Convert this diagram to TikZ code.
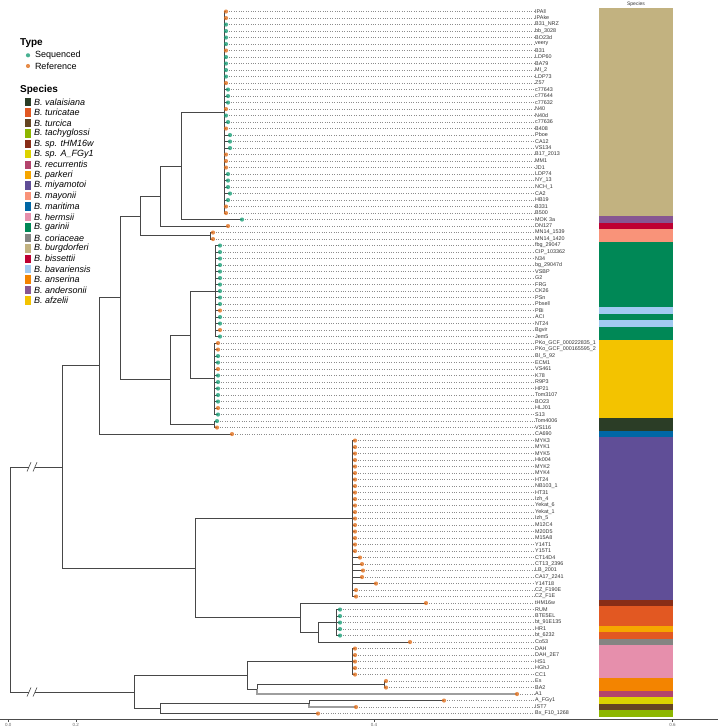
\documentclass[tikz,border=0pt]{standalone}
\usepackage{fontspec}
\setmainfont{Liberation Sans}
\usetikzlibrary{positioning}

\definecolor{cval}{HTML}{2B3D26}
\definecolor{ctur}{HTML}{E25822}
\definecolor{ctrc}{HTML}{654522}
\definecolor{ctac}{HTML}{8DB600}
\definecolor{cthm}{HTML}{882D17}
\definecolor{cafg}{HTML}{DCD300}
\definecolor{crec}{HTML}{B3446C}
\definecolor{cpar}{HTML}{F6A600}
\definecolor{cmiy}{HTML}{604E97}
\definecolor{cmay}{HTML}{F99379}
\definecolor{cmar}{HTML}{0067A5}
\definecolor{cher}{HTML}{E68FAC}
\definecolor{cgar}{HTML}{008856}
\definecolor{ccor}{HTML}{848482}
\definecolor{cbur}{HTML}{C2B280}
\definecolor{cbis}{HTML}{BE0032}
\definecolor{cbav}{HTML}{A1CAF1}
\definecolor{cans}{HTML}{F38400}
\definecolor{cand}{HTML}{875692}
\definecolor{cafz}{HTML}{F3C300}
\definecolor{seqc}{HTML}{1B9E77}
\definecolor{refc}{HTML}{E0701E}

\begin{document}
\begin{tikzpicture}[x=1pt,y=-1pt,
    br/.style={draw=black!72, line width=0.75pt},
    brthick/.style={draw=black!38, line width=1.8pt},
    leader/.style={draw=black!45, dotted, line width=0.4pt},
    tiplab/.style={anchor=west, inner sep=0pt, font=\fontsize{5.4}{6}\selectfont, text=black!80},
    dotR/.style={circle, fill=refc, fill opacity=0.8, inner sep=0pt, minimum size=4.2pt},
    dotG/.style={circle, fill=seqc, fill opacity=0.8, inner sep=0pt, minimum size=4.2pt},
    legtitle/.style={anchor=west, inner sep=0pt, font=\fontsize{10}{12}\selectfont\bfseries},
    legtext/.style={anchor=west, inner sep=0pt, font=\fontsize{9}{11}\selectfont},
    ticklab/.style={inner sep=0pt, font=\fontsize{4.5}{5}\selectfont, text=black!60}]
\useasboundingbox (0,0) rectangle (720,728);

% legend
\node[legtitle] (typetitle) at (20,42.7) {Type};
\node[dotG] (seqdot) at (28,55.3) {};
\node[legtext, right=4.5pt of seqdot] (seqlab) {Sequenced};
\node[dotR] (refdot) at (28,66) {};
\node[legtext, right=4.5pt of refdot] (reflab) {Reference};
\node[legtitle] (sptitle) at (20,90) {Species};
\foreach \c/\n [count=\i from 0] in {cval/valaisiana, ctur/turicatae, ctrc/turcica,
    ctac/tachyglossi, cthm/sp. tHM16w, cafg/sp. A\_FGy1, crec/recurrentis, cpar/parkeri,
    cmiy/miyamotoi, cmay/mayonii, cmar/maritima, cher/hermsii, cgar/garinii,
    ccor/coriaceae, cbur/burgdorferi, cbis/bissettii, cbav/bavariensis,
    cans/anserina, cand/andersonii, cafz/afzelii}{
  \fill[\c] ({24.5},{102+10.45*\i-4.2}) rectangle ({31},{102+10.45*\i+4.2});
  \node[legtext] (sp\i) at ({34},{102+10.45*\i}) {\itshape B. \n};
}

% species bar header
\node[ticklab, text=black!80, font=\fontsize{5}{6}\selectfont] (barhead) at (636,4) {Species};

% axis
\draw[black!70, line width=0.6pt] (0,719.5) -- (718,719.5);
\foreach \xx/\tl in {8.3/0.0, 75.8/0.2, 374/0.4, 672.6/0.6}{
  \draw[black!70, line width=0.4pt] (\xx,719.5) -- (\xx,721.5);
  \node[ticklab] at (\xx,724.5) {\tl};
}

\begin{scope}[y=-6.5pt, yshift=-11.55pt]
% tips: label / tip x / type / species colour
\foreach \lab/\tx/\ty/\sp [count=\r from 0] in {
    IPAll/226/dotR/cbur, IPAke/226/dotR/cbur, B31\_NRZ/226/dotG/cbur, bb\_3028/226/dotG/cbur,
    BO23d/226/dotG/cbur, veery/226/dotG/cbur, B31/226/dotR/cbur, LDP60/226/dotG/cbur,
    BA79/226/dotG/cbur, MI\_2/226/dotG/cbur, LDP73/226/dotG/cbur, Z57/226/dotR/cbur,
    c77643/228/dotG/cbur, c77644/228/dotG/cbur, c77632/228/dotG/cbur, N40/226/dotR/cbur,
    N40d/226/dotG/cbur, c77636/228/dotG/cbur, B408/226/dotR/cbur, Pboe/230/dotG/cbur,
    CA12/230/dotG/cbur, VS134/230/dotG/cbur, B17\_2013/226/dotR/cbur, MM1/226/dotR/cbur,
    JD1/226/dotR/cbur, LDP74/228/dotG/cbur, NY\_13/228/dotG/cbur, NCH\_1/228/dotG/cbur,
    CA2/230/dotG/cbur, HB19/228/dotG/cbur, B331/226/dotR/cbur, B500/226/dotR/cbur,
    MOK 3a/242/dotG/cand, DN127/228/dotR/cbis, MN14\_1539/213/dotR/cmay, MN14\_1420/213/dotR/cmay,
    fbg\_29047/220/dotG/cgar, CIP\_103362/220/dotG/cgar, N34/220/dotG/cgar, bg\_29047d/220/dotG/cgar,
    VSBP/220/dotG/cgar, G2/220/dotG/cgar, FRG/220/dotG/cgar, CK26/220/dotG/cgar,
    PSn/220/dotG/cgar, Pbsell/220/dotG/cgar, PBi/220/dotR/cbav, ACI/220/dotG/cgar,
    NT24/220/dotG/cbav, Bgvir/220/dotR/cgar, Jem5/220/dotG/cgar,
    PKo\_GCF\_000222835\_1/218/dotR/cafz, PKo\_GCF\_000165595\_2/218/dotR/cafz, Bl\_5\_92/218/dotG/cafz,
    ECM1/218/dotG/cafz, VS461/218/dotR/cafz, K78/218/dotG/cafz, R9P3/218/dotG/cafz,
    HP21/218/dotG/cafz, Tom3107/218/dotG/cafz, BO23/218/dotG/cafz, HLJ01/218/dotR/cafz,
    S13/218/dotG/cafz, Tom4006/217/dotG/cval, VS116/217/dotR/cval, CA690/232/dotR/cmar,
    MYK3/355/dotR/cmiy, MYK1/355/dotR/cmiy, MYK5/355/dotR/cmiy, Hk004/355/dotR/cmiy,
    MYK2/355/dotR/cmiy, MYK4/355/dotR/cmiy, HT24/355/dotR/cmiy, NB103\_1/355/dotR/cmiy,
    HT31/355/dotR/cmiy, Izh\_4/355/dotR/cmiy, Yekat\_6/355/dotR/cmiy, Yekat\_1/355/dotR/cmiy,
    Izh\_5/355/dotR/cmiy, M12C4/355/dotR/cmiy, M20D5/355/dotR/cmiy, M15A8/355/dotR/cmiy,
    Y14T1/355/dotR/cmiy, Y15T1/355/dotR/cmiy, CT14D4/360/dotR/cmiy, CT13\_2396/362/dotR/cmiy,
    LB\_2001/363/dotR/cmiy, CA17\_2241/362/dotR/cmiy, Y14T18/376/dotR/cmiy, CZ\_F190E/356/dotR/cmiy,
    CZ\_F1E/356/dotR/cmiy, tHM16w/426/dotR/cthm, RUM/340/dotG/ctur, BTE5EL/340/dotG/ctur,
    bt\_91E135/340/dotG/ctur, HR1/340/dotG/cpar, bt\_6232/340/dotG/ctur, Co53/410/dotR/ccor,
    DAH/355/dotR/cher, DAH\_2E7/355/dotR/cher, HS1/355/dotR/cher, HGhJ/355/dotR/cher,
    CC1/355/dotR/cher, Es/386/dotR/cans, BA2/386/dotR/cans, A1/517/dotR/crec,
    A\_FGy1/444/dotR/cafg, IST7/356/dotR/ctrc, Bx\_F10\_1268/318/dotR/ctac}{
  \coordinate (t\r) at (\tx,\r);
  \node[tiplab] (l\r) at (535,\r) {\lab};
  \draw[leader] (t\r) ++(3,0) -- (l\r.west);
  \fill[\sp] (598.5,\r-0.5) rectangle (673,\r+0.5);
  \draw[white, opacity=0.35, line width=0.4pt] (598.5,\r+0.5) -- (673,\r+0.5);
}

% internal nodes
\coordinate (nBur) at (224,15.5);
\coordinate (nAnd) at (181,23.75);
\coordinate (nBis) at (160,28.375);
\coordinate (nMay) at (210,34.5);
\coordinate (nBS) at (140,31.44);
\coordinate (nGar) at (215,43);
\coordinate (nAfz) at (214,56.5);
\coordinate (nGA) at (190,49.75);
\coordinate (nVal) at (214,63.5);
\coordinate (nGAV) at (170,56.6);
\coordinate (nLB1) at (120,44.02);
\coordinate (nLB) at (99,54.5);
\coordinate (nMiy) at (352,78);
\coordinate (nTP) at (336,94);
\coordinate (nTPC) at (318,95.5);
\coordinate (nTT) at (300,93.25);
\coordinate (nRF) at (195,85.6);
\coordinate (nHer) at (352,100);
\coordinate (nAns) at (384,103.5);
\coordinate (nAR) at (257,104.25);
\coordinate (nH) at (247,102.125);
\coordinate (nAI) at (309,106.5);
\coordinate (nBot) at (160,107.25);
\coordinate (nL) at (134,104.69);
\coordinate (nU) at (62,70.05);
\coordinate (nR) at (10,87.4);

% combs
\foreach \r in {0,...,31} \draw[br] (nBur) |- (t\r);
\foreach \r in {36,...,50} \draw[br] (nGar) |- (t\r);
\foreach \r in {51,...,62} \draw[br] (nAfz) |- (t\r);
\foreach \r in {66,...,90} \draw[br] (nMiy) |- (t\r);
\foreach \r in {92,...,96} \draw[br] (nTP) |- (t\r);
\foreach \r in {98,...,102} \draw[br] (nHer) |- (t\r);

% branches
\draw[br] (nAnd) |- (nBur);  \draw[br] (nAnd) |- (t32);
\draw[br] (nBis) |- (nAnd);  \draw[br] (nBis) |- (t33);
\draw[br] (nMay) |- (t34);   \draw[br] (nMay) |- (t35);
\draw[br] (nBS) |- (nBis);   \draw[br] (nBS) |- (nMay);
\draw[br] (nGA) |- (nGar);   \draw[br] (nGA) |- (nAfz);
\draw[br] (nVal) |- (t63);   \draw[br] (nVal) |- (t64);
\draw[br] (nGAV) |- (nGA);   \draw[br] (nGAV) |- (nVal);
\draw[br] (nLB1) |- (nBS);   \draw[br] (nLB1) |- (nGAV);
\draw[br] (nLB) |- (nLB1);   \draw[br] (nLB) |- (t65);
\draw[br] (nTPC) |- (nTP);   \draw[br] (nTPC) |- (t97);
\draw[br] (nTT) |- (t91);    \draw[br] (nTT) |- (nTPC);
\draw[br] (nRF) |- (nMiy);   \draw[br] (nRF) |- (nTT);
\draw[br] (nAns) |- (t103);  \draw[br] (nAns) |- (t104);
\draw[br] (nAR) |- (nAns);   \draw[brthick] (nAR) |- (t105);
\draw[br] (nH) |- (nHer);    \draw[br] (nH) |- (nAR);
\draw[br] (nAI) |- (t106);   \draw[brthick] (nAI) |- (t107);
\draw[br] (nBot) |- (nAI);   \draw[br] (nBot) |- (t108);
\draw[br] (nL) |- (nH);      \draw[br] (nL) |- (nBot);
\draw[br] (nU) |- (nLB);     \draw[br] (nU) |- (nRF);
\draw[br] (nR) |- (nU);      \draw[br] (nR) |- (nL);

% axis breaks on the root branches
\foreach \yy in {70.05,104.69}{
  \fill[white] (29,\yy-0.3) rectangle (35,\yy+0.3);
  \draw[br, line width=0.6pt] (27,\yy+0.7) -- (31,\yy-0.7);
  \draw[br, line width=0.6pt] (33,\yy+0.7) -- (37,\yy-0.7);
}

% tip points
\foreach \ty [count=\r from 0] in {dotR,dotR,dotG,dotG,dotG,dotG,dotR,dotG,dotG,dotG,dotG,dotR,
    dotG,dotG,dotG,dotR,dotG,dotG,dotR,dotG,dotG,dotG,dotR,dotR,dotR,dotG,dotG,dotG,dotG,dotG,
    dotR,dotR,dotG,dotR,dotR,dotR,dotG,dotG,dotG,dotG,dotG,dotG,dotG,dotG,dotG,dotG,dotR,dotG,
    dotG,dotR,dotG,dotR,dotR,dotG,dotG,dotR,dotG,dotG,dotG,dotG,dotG,dotR,dotG,dotG,dotR,dotR,
    dotR,dotR,dotR,dotR,dotR,dotR,dotR,dotR,dotR,dotR,dotR,dotR,dotR,dotR,dotR,dotR,dotR,dotR,
    dotR,dotR,dotR,dotR,dotR,dotR,dotR,dotR,dotG,dotG,dotG,dotG,dotG,dotR,dotR,dotR,dotR,dotR,
    dotR,dotR,dotR,dotR,dotR,dotR,dotR}{
  \node[\ty] (d\r) at (t\r) {};
}
\end{scope}
\end{tikzpicture}
\end{document}
